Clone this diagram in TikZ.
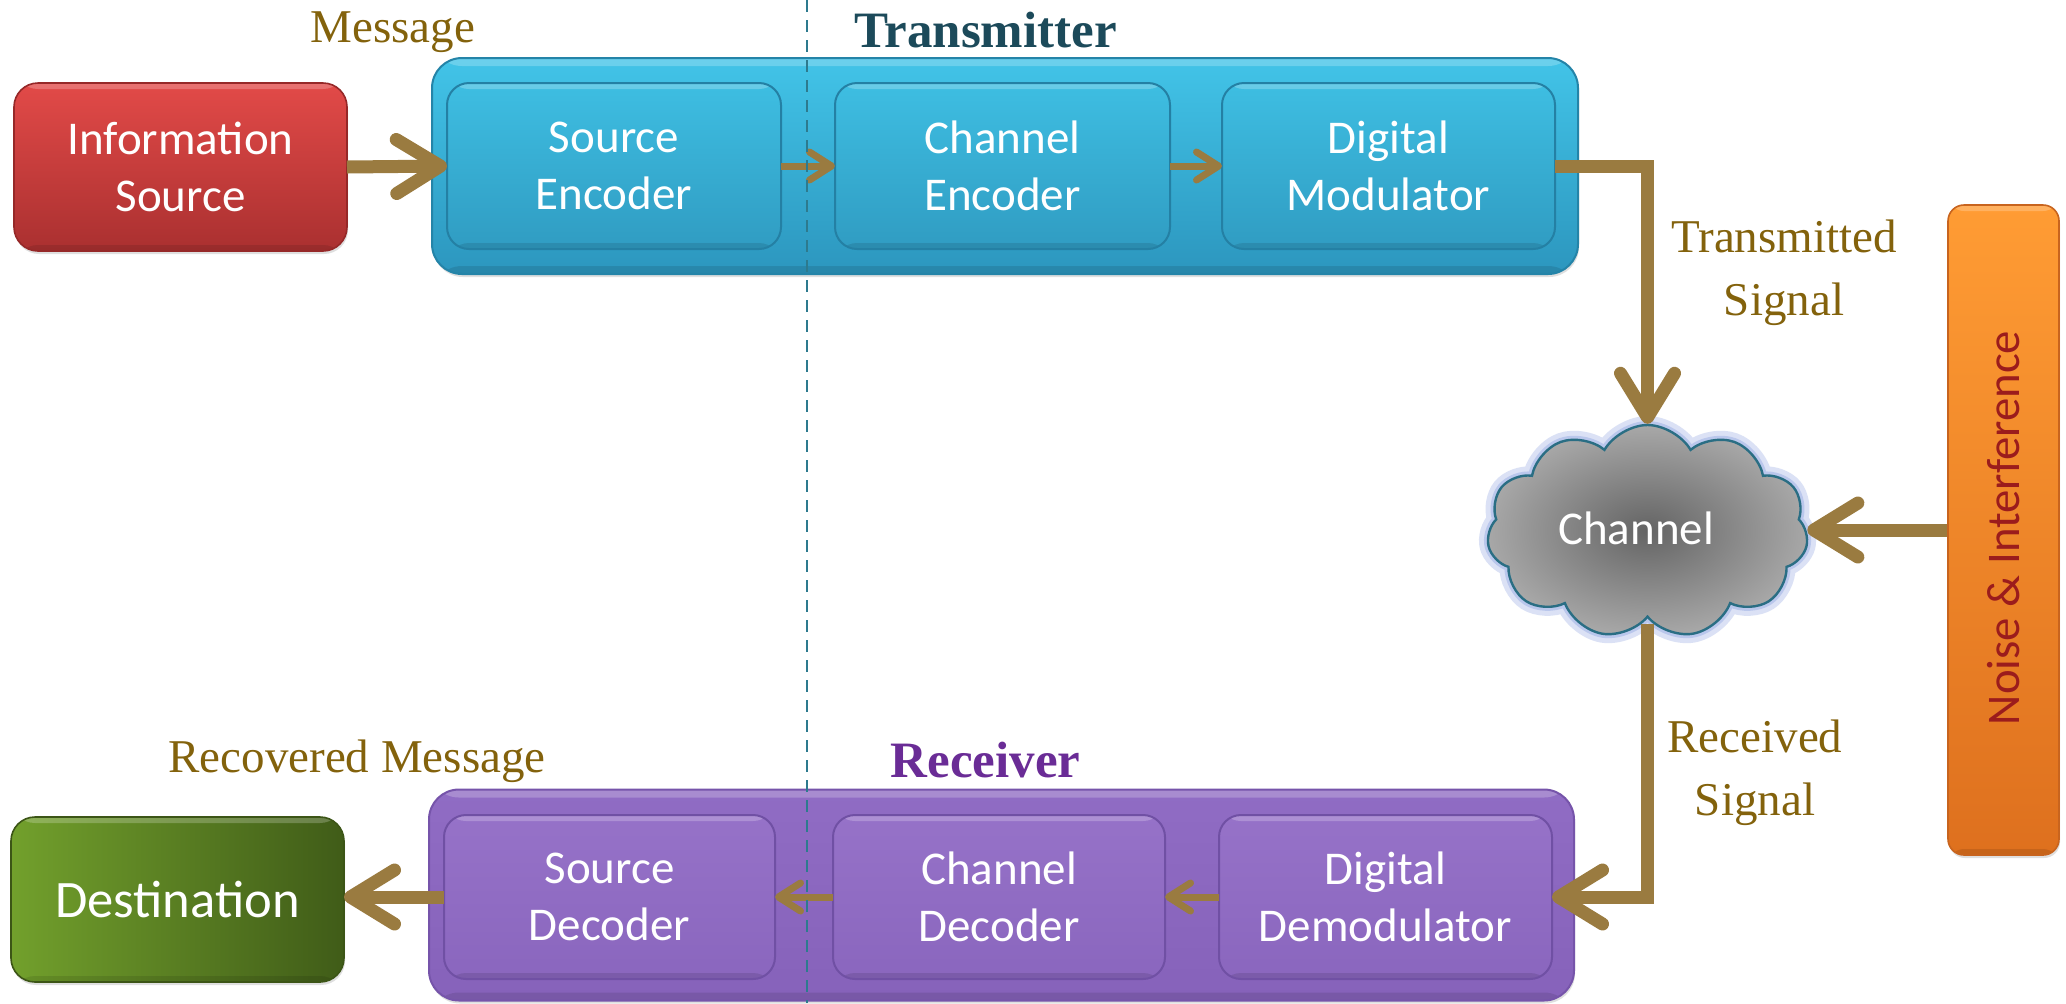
\documentclass[tikz,border=0pt]{standalone}
\usepackage{fontspec}
\setmainfont{Liberation Serif}
\newfontfamily\boxfont{Carlito}
\usetikzlibrary{arrows.meta,shapes.symbols,shadows}
\definecolor{arrowc}{HTML}{9A7B40}
\definecolor{labelc}{HTML}{83620C}
\definecolor{txc}{HTML}{1C4A5A}
\definecolor{rxc}{HTML}{6A2C96}
\definecolor{dashc}{HTML}{2D7A8E}
\definecolor{noisetxt}{HTML}{9B1C1C}
\tikzset{
  boxtext/.style={text=white, font=\boxfont\fontsize{23.5pt}{28.5pt}\selectfont, align=center, inner sep=0pt, outer sep=0pt},
  gloss/.style={path picture={
     \fill[white, opacity=0.22] ([yshift=1pt]path picture bounding box.north west) rectangle ([yshift=-#1]path picture bounding box.north east);
     \fill[black, opacity=0.10] ([yshift=#1]path picture bounding box.south west) rectangle ([yshift=-1pt]path picture bounding box.south east);}},
  gloss/.default=3pt,
  redbox/.style={boxtext, gloss, rounded corners=12pt, top color={rgb,255:red,226;green,74;blue,72}, bottom color={rgb,255:red,170;green,48;blue,48}, draw={rgb,255:red,150;green,40;blue,40}, line width=0.8pt,
     drop shadow={shadow xshift=0.5pt, shadow yshift=-1.5pt, opacity=0.25}},
  greenbox/.style={boxtext, gloss, rounded corners=12pt, left color={rgb,255:red,114;green,160;blue,44}, right color={rgb,255:red,64;green,92;blue,24}, draw={rgb,255:red,60;green,85;blue,22}, line width=0.8pt,
     drop shadow={shadow xshift=0.5pt, shadow yshift=-1.5pt, opacity=0.25}},
  txouter/.style={gloss=4pt, rounded corners=15pt, inner sep=0pt, top color={rgb,255:red,66;green,196;blue,232}, bottom color={rgb,255:red,44;green,150;blue,190}, draw={rgb,255:red,36;green,132;blue,168}, line width=1pt,
     drop shadow={shadow xshift=0.5pt, shadow yshift=-1.5pt, opacity=0.25}},
  txinner/.style={boxtext, gloss, rounded corners=11pt, top color={rgb,255:red,62;green,190;blue,226}, bottom color={rgb,255:red,48;green,156;blue,194}, draw={rgb,255:red,36;green,128;blue,164}, line width=1pt},
  rxouter/.style={gloss=4pt, rounded corners=15pt, inner sep=0pt, top color={rgb,255:red,144;green,108;blue,196}, bottom color={rgb,255:red,134;green,98;blue,186}, draw={rgb,255:red,118;green,84;blue,170}, line width=1pt,
     drop shadow={shadow xshift=0.5pt, shadow yshift=-1.5pt, opacity=0.25}},
  rxinner/.style={boxtext, gloss, rounded corners=11pt, top color={rgb,255:red,150;green,114;blue,200}, bottom color={rgb,255:red,138;green,102;blue,190}, draw={rgb,255:red,112;green,80;blue,164}, line width=1pt},
  noisebox/.style={gloss, rounded corners=8pt, inner sep=0pt, top color={rgb,255:red,255;green,156;blue,52}, bottom color={rgb,255:red,222;green,112;blue,30}, draw={rgb,255:red,200;green,100;blue,30}, line width=0.8pt,
     drop shadow={shadow xshift=0.5pt, shadow yshift=-1.5pt, opacity=0.25}},
  sig/.style={text=labelc, font=\fontsize{23.5pt}{31.5pt}\selectfont, align=center, inner sep=0pt},
  grouplabel/.style={font=\bfseries\fontsize{25.5pt}{28pt}\selectfont, inner sep=0pt},
  bigarrow/.style={draw=arrowc, line width=6.5pt, -{Straight Barb[length=22pt,width=27pt,round]}},
  smallarrow/.style={draw=arrowc, line width=3.5pt, -{Straight Barb[length=11pt,width=14pt,round]}},
}
\begin{document}
\begin{tikzpicture}[x=0.5pt,y=-0.5pt]
\useasboundingbox[fill=white] (0,0) rectangle (2066,1003);
% group boxes
\node[txouter, minimum width=573pt, minimum height=108pt] (tx) at (1005,166) {};
\node[rxouter, minimum width=572.5pt, minimum height=105.5pt] (rx) at (1001.5,895) {};
% transmitter blocks
\node[redbox, minimum width=166.5pt, minimum height=84pt] (info) at (180.5,167) {Information\\Source};
\node[txinner, minimum width=167pt, minimum height=83pt] (senc) at (614,166) {Source\\Encoder};
\node[txinner, minimum width=167.5pt, minimum height=83pt] (cenc) at (1002.5,166) {Channel\\Encoder};
\node[txinner, minimum width=166.5pt, minimum height=83pt] (dmod) at (1388.5,166) {Digital\\Modulator};
% receiver blocks
\node[greenbox, minimum width=166.5pt, minimum height=82.5pt, font=\boxfont\fontsize{26.3pt}{30pt}\selectfont] (dest) at (177.5,899.5) {Destination};
\node[rxinner, minimum width=165.5pt, minimum height=82pt] (sdec) at (609.5,897) {Source\\Decoder};
\node[rxinner, minimum width=166pt, minimum height=82pt] (cdec) at (999,897) {Channel\\Decoder};
\node[rxinner, minimum width=166.5pt, minimum height=82pt] (ddem) at (1385.5,897) {Digital\\Demodulator};
% channel cloud
\node[cloud, cloud puffs=11, cloud puff arc=120, cloud ignores aspect, minimum width=160.5pt, minimum height=106.5pt, inner sep=0pt,
      draw={rgb,255:red,165;green,182;blue,230}, line width=9pt, opacity=0.4] (cloudglow) at (1647.5,531.5) {};
\node[cloud, cloud puffs=11, cloud puff arc=120, cloud ignores aspect, minimum width=160.5pt, minimum height=106.5pt, inner sep=0pt,
      draw={rgb,255:red,165;green,182;blue,230}, line width=4pt, opacity=0.6] (cloudglowb) at (1647.5,531.5) {};
\node[cloud, cloud puffs=11, cloud puff arc=120, cloud ignores aspect, minimum width=160.5pt, minimum height=106.5pt, inner sep=0pt,
      shading=radial, inner color={rgb,255:red,100;green,100;blue,100}, outer color={rgb,255:red,168;green,168;blue,168},
      draw={rgb,255:red,42;green,110;blue,132}, line width=1.2pt] (cloud) at (1647.5,531.5) {};
\node[boxtext] (chtext) at (1636,528) {Channel};
% noise
\node[noisebox, minimum width=55.5pt, minimum height=325pt] (noise) at (2003.5,530) {};
\node[rotate=90, text=noisetxt, font=\boxfont\fontsize{23.4pt}{26pt}\selectfont, inner sep=0pt] (noisetext) at (2004,528) {Noise \& Interference};
% labels
\node[sig, anchor=base] (msg) at (393,42) {Message};
\node[grouplabel, text=txc, anchor=base] (txlabel) at (985.5,47) {Transmitter};
\node[sig] (tsig) at (1784,273) {Transmitted\\Signal};
\node[sig] (rsig) at (1755,773) {Received\\Signal};
\node[sig, anchor=base] (rmsg) at (357,772) {Recovered Message};
\node[grouplabel, text=rxc, anchor=base] (rxlabel) at (985.5,777) {Receiver};
% connectors
\draw[bigarrow] (info.east) -- (senc.west);
\draw[smallarrow] (senc.east) -- (cenc.west);
\draw[smallarrow] (cenc.east) -- (dmod.west);
\draw[bigarrow] (dmod.east) -- (dmod.east -| cloud.north) -- (cloud.north);
\draw[bigarrow] (noise.west) -- (noise.west -| cloud.east);
\draw[bigarrow] ([yshift=-3pt]cloud.south) |- (ddem.east);
\draw[smallarrow] (ddem.west) -- (cdec.east);
\draw[smallarrow] (cdec.west) -- (sdec.east);
\draw[bigarrow] (sdec.west) -- (sdec.west -| dest.east);
% divider
\coordinate (dtop) at (807,0);
\coordinate (dbot) at (807,1003);
\draw[dashc, line width=1pt, dash pattern=on 6pt off 4pt] (dtop) -- (dbot);
\end{tikzpicture}
\end{document}
